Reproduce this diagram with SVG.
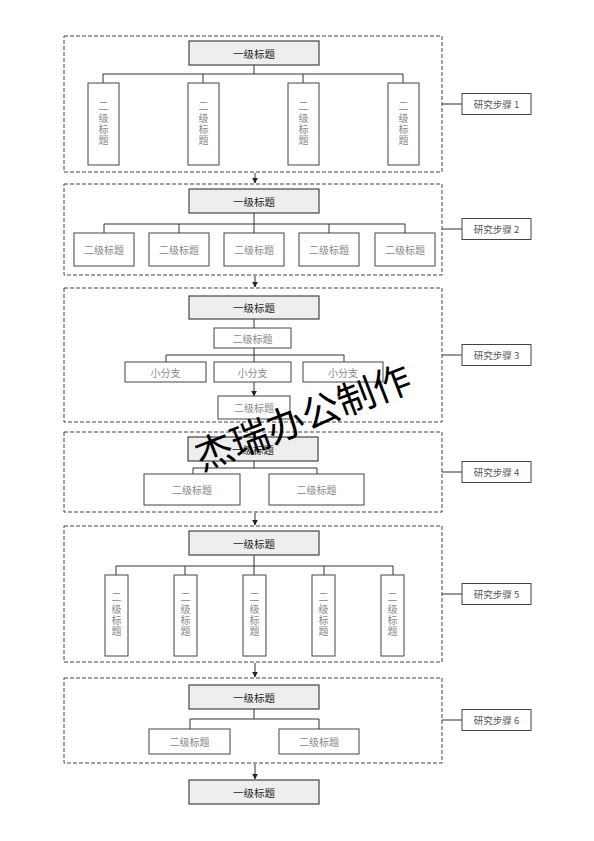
<svg xmlns="http://www.w3.org/2000/svg" width="594" height="841" viewBox="0 0 594 841">
<defs>
<style>
.sec{fill:none;stroke:#444;stroke-width:1;stroke-dasharray:4 2}
.b1{fill:#eeeeee;stroke:#444;stroke-width:1.2}
.b2{fill:#fff;stroke:#444;stroke-width:1}
.ln{fill:none;stroke:#333;stroke-width:1}
.ar{fill:none;stroke:#333;stroke-width:1;marker-end:url(#ah)}
text{font-family:"Noto Sans CJK SC","Noto Sans",sans-serif;dominant-baseline:central;text-anchor:middle}
.tx1{font-size:10.5px;fill:#222}
.tx2{font-size:10px;fill:#888}
.vt{font-size:10px;fill:#888;writing-mode:vertical-rl;text-orientation:upright;letter-spacing:1.2px}
.txl{font-size:9.5px;fill:#555}
.wm{font-size:38px;fill:#000}
</style>
<marker id="ah" viewBox="0 0 10 10" refX="9" refY="5" markerWidth="6" markerHeight="6" markerUnits="userSpaceOnUse" orient="auto"><path d="M0,0 L10,5 L0,10 z" fill="#222"/></marker>
</defs>
<rect width="594" height="841" fill="#fff"/>

<g id="sections">
<rect class="sec" x="64" y="36" width="378" height="136"/>
<rect class="sec" x="64" y="184" width="378" height="91"/>
<rect class="sec" x="64" y="288" width="378" height="134"/>
<rect class="sec" x="64" y="432" width="378" height="80"/>
<rect class="sec" x="64" y="526" width="378" height="136"/>
<rect class="sec" x="64" y="678" width="378" height="85"/>
</g>

<g id="connectors">
<path class="ln" d="M254,65 V74 M103,74 H403 M103,74 V83 M203,74 V83 M303,74 V83 M403,74 V83"/>
<path class="ln" d="M254,213 V224 M104,224 H405 M104,224 V233 M179,224 V233 M254,224 V233 M329,224 V233 M405,224 V233"/>
<path class="ln" d="M254,319 V328 M254,348 V355 M166,355 H344 M166,355 V362 M254,355 V362 M344,355 V362"/>
<path class="ar" d="M254,382 V396"/>
<path class="ln" d="M254,461 V468 M193,468 H317 M193,468 V474 M317,468 V474"/>
<path class="ln" d="M254,555 V566 M116,566 H393 M116,566 V575 M185,566 V575 M254,566 V575 M324,566 V575 M393,566 V575"/>
<path class="ln" d="M254,709 V719 M190,719 H319 M190,719 V729 M319,719 V729"/>
<path class="ar" d="M255,173 V183"/>
<path class="ar" d="M255,276 V287"/>
<path class="ar" d="M255,513 V525"/>
<path class="ar" d="M255,663 V677"/>
<path class="ar" d="M255,764 V779"/>
<path class="ln" d="M442,104 H462 M442,229 H462 M442,355 H462 M442,472 H462 M442,594 H462 M442,720 H462"/>
</g>

<g id="s1">
<g id="s1-title"><rect class="b1" x="189" y="41" width="130" height="24"/><text class="tx1" x="254" y="53">一级标题</text></g>
<g id="s1-a"><rect class="b2" x="88" y="83" width="31" height="82"/><text class="vt" x="103.5" y="124">二级标题</text></g>
<g id="s1-b"><rect class="b2" x="188" y="83" width="31" height="82"/><text class="vt" x="203.5" y="124">二级标题</text></g>
<g id="s1-c"><rect class="b2" x="288" y="83" width="31" height="82"/><text class="vt" x="303.5" y="124">二级标题</text></g>
<g id="s1-d"><rect class="b2" x="388" y="83" width="31" height="82"/><text class="vt" x="403.5" y="124">二级标题</text></g>
</g>

<g id="s2">
<g id="s2-title"><rect class="b1" x="189" y="189" width="130" height="24"/><text class="tx1" x="254" y="201">一级标题</text></g>
<g id="s2-a"><rect class="b2" x="74" y="233" width="60" height="33"/><text class="tx2" x="104" y="249.5">二级标题</text></g>
<g id="s2-b"><rect class="b2" x="149" y="233" width="60" height="33"/><text class="tx2" x="179" y="249.5">二级标题</text></g>
<g id="s2-c"><rect class="b2" x="224" y="233" width="60" height="33"/><text class="tx2" x="254" y="249.5">二级标题</text></g>
<g id="s2-d"><rect class="b2" x="299" y="233" width="60" height="33"/><text class="tx2" x="329" y="249.5">二级标题</text></g>
<g id="s2-e"><rect class="b2" x="375" y="233" width="60" height="33"/><text class="tx2" x="405" y="249.5">二级标题</text></g>
</g>

<g id="s3">
<g id="s3-title"><rect class="b1" x="189" y="296" width="130" height="23"/><text class="tx1" x="254" y="307.5">一级标题</text></g>
<g id="s3-sub"><rect class="b2" x="214" y="328" width="77" height="20"/><text class="tx2" x="252.5" y="338">二级标题</text></g>
<g id="s3-a"><rect class="b2" x="125" y="362" width="81" height="20"/><text class="tx2" x="165.5" y="372">小分支</text></g>
<g id="s3-b"><rect class="b2" x="214" y="362" width="77" height="20"/><text class="tx2" x="252.5" y="372">小分支</text></g>
<g id="s3-c"><rect class="b2" x="303" y="362" width="80" height="20"/><text class="tx2" x="343" y="372">小分支</text></g>
<g id="s3-low"><rect class="b2" x="218" y="396" width="72" height="23"/><text class="tx2" x="254" y="407.5">二级标题</text></g>
</g>

<g id="s4">
<g id="s4-title"><rect class="b1" x="188" y="437" width="130" height="24"/><text class="tx1" x="253" y="449">一级标题</text></g>
<g id="s4-a"><rect class="b2" x="144" y="474" width="96" height="31"/><text class="tx2" x="192" y="489.5">二级标题</text></g>
<g id="s4-b"><rect class="b2" x="269" y="474" width="95" height="31"/><text class="tx2" x="316.5" y="489.5">二级标题</text></g>
</g>

<g id="s5">
<g id="s5-title"><rect class="b1" x="189" y="531" width="130" height="24"/><text class="tx1" x="254" y="543">一级标题</text></g>
<g id="s5-a"><rect class="b2" x="105" y="575" width="23" height="81"/><text class="vt" x="116.5" y="615">二级标题</text></g>
<g id="s5-b"><rect class="b2" x="174" y="575" width="23" height="81"/><text class="vt" x="185.5" y="615">二级标题</text></g>
<g id="s5-c"><rect class="b2" x="243" y="575" width="23" height="81"/><text class="vt" x="254.5" y="615">二级标题</text></g>
<g id="s5-d"><rect class="b2" x="312" y="575" width="23" height="81"/><text class="vt" x="323.5" y="615">二级标题</text></g>
<g id="s5-e"><rect class="b2" x="381" y="575" width="23" height="81"/><text class="vt" x="392.5" y="615">二级标题</text></g>
</g>

<g id="s6">
<g id="s6-title"><rect class="b1" x="189" y="685" width="130" height="24"/><text class="tx1" x="254" y="697">一级标题</text></g>
<g id="s6-a"><rect class="b2" x="149" y="729" width="81" height="25"/><text class="tx2" x="189.5" y="741.5">二级标题</text></g>
<g id="s6-b"><rect class="b2" x="279" y="729" width="80" height="25"/><text class="tx2" x="319" y="741.5">二级标题</text></g>
</g>

<g id="final">
<rect class="b1" x="189" y="780" width="130" height="24"/><text class="tx1" x="254" y="792">一级标题</text>
</g>

<g id="labels">
<g id="l1"><rect class="b2" x="462" y="93.5" width="69" height="21"/><text class="txl" x="496.5" y="104">研究步骤 1</text></g>
<g id="l2"><rect class="b2" x="462" y="218.5" width="69" height="21"/><text class="txl" x="496.5" y="229">研究步骤 2</text></g>
<g id="l3"><rect class="b2" x="462" y="344.5" width="69" height="21"/><text class="txl" x="496.5" y="355">研究步骤 3</text></g>
<g id="l4"><rect class="b2" x="462" y="461.5" width="69" height="21"/><text class="txl" x="496.5" y="472">研究步骤 4</text></g>
<g id="l5"><rect class="b2" x="462" y="583.5" width="69" height="21"/><text class="txl" x="496.5" y="594">研究步骤 5</text></g>
<g id="l6"><rect class="b2" x="462" y="709.5" width="69" height="21"/><text class="txl" x="496.5" y="720">研究步骤 6</text></g>
</g>

<text class="wm" x="302" y="415" transform="rotate(-21 302 415)">杰瑞办公制作</text>
</svg>
